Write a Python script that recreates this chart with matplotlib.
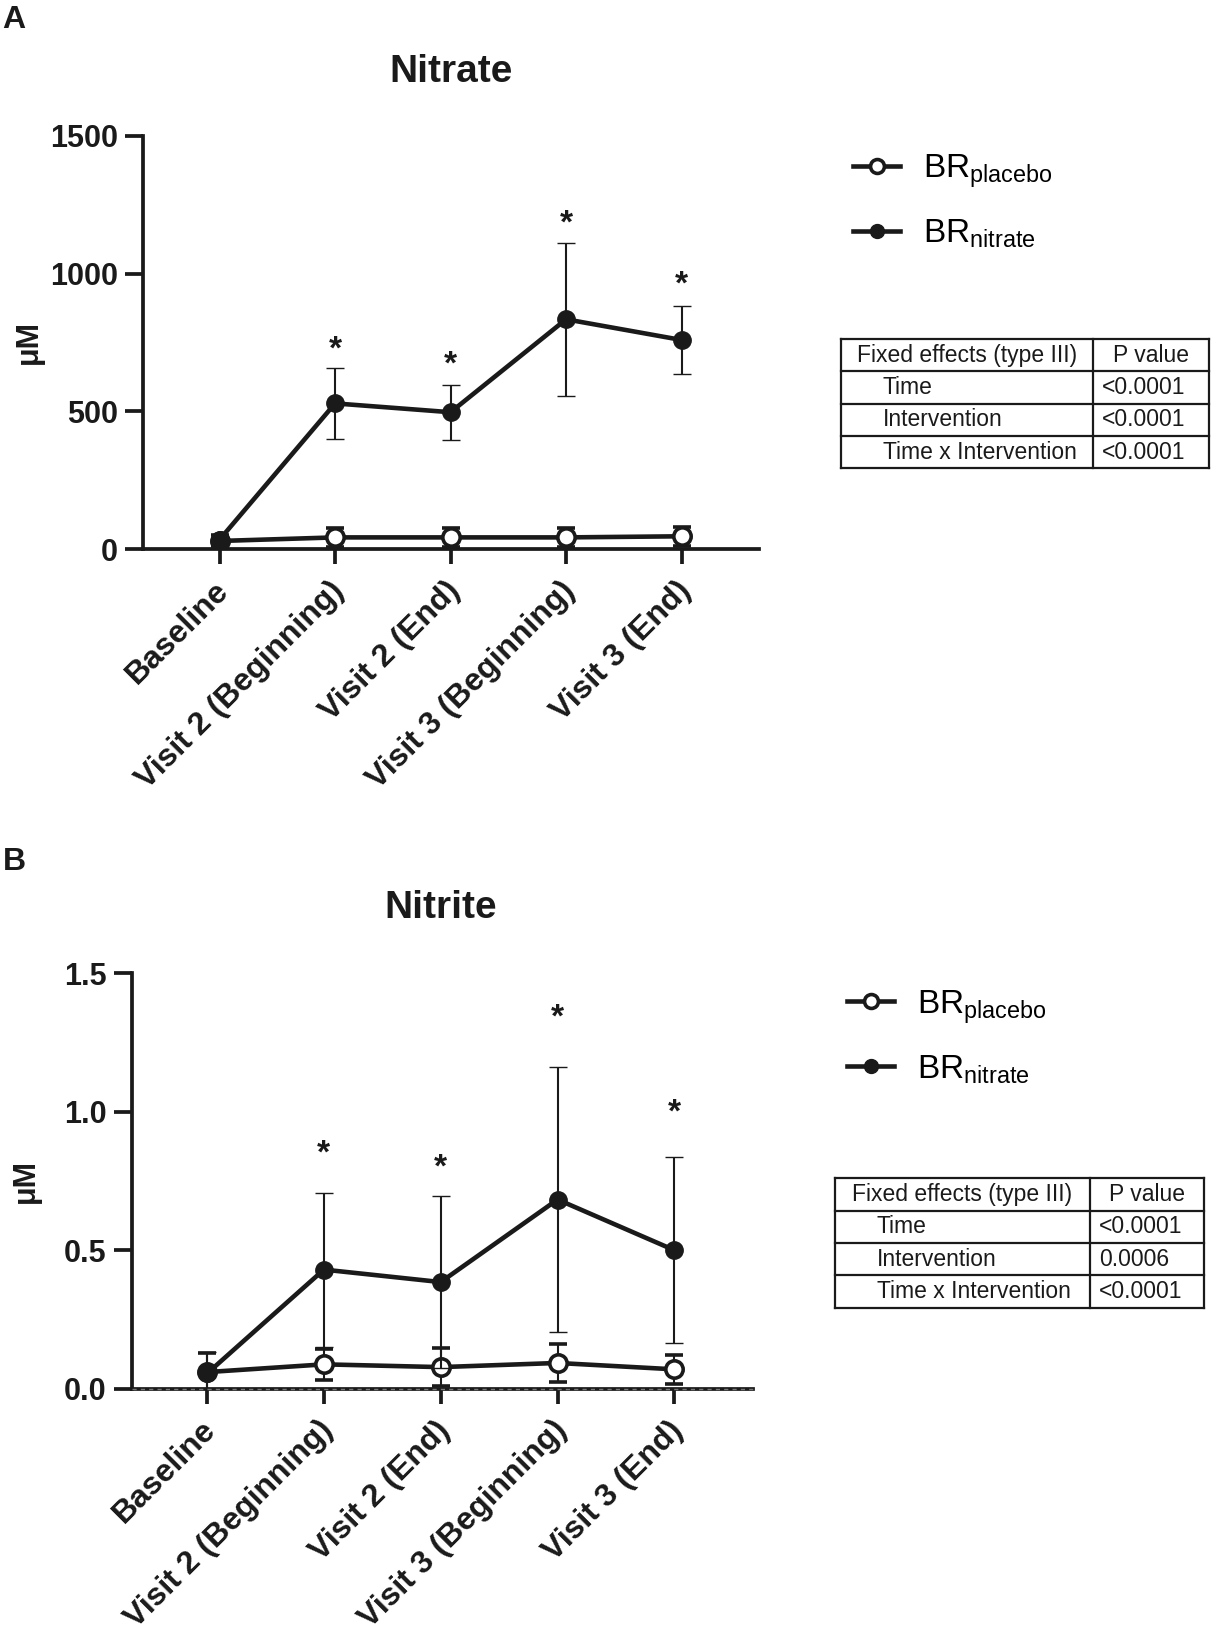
import numpy as np
import matplotlib
matplotlib.use('Agg')
import matplotlib.pyplot as plt
import matplotlib.transforms as mtransforms

plt.rcParams['font.family'] = ['Liberation Sans', 'DejaVu Sans']
plt.rcParams['mathtext.fontset'] = 'custom'
plt.rcParams['mathtext.rm'] = 'Liberation Sans'
plt.rcParams['mathtext.it'] = 'Liberation Sans:italic'
plt.rcParams['mathtext.bf'] = 'Liberation Sans:bold'

# ---------------- data ----------------
categories = ['Baseline', 'Visit 2 (Beginning)', 'Visit 2 (End)',
              'Visit 3 (Beginning)', 'Visit 3 (End)']
series_labels = [r'BR$_{\mathrm{placebo}}$', r'BR$_{\mathrm{nitrate}}$']

# Panel A: Nitrate (uM)
nitrate_placebo_mean = [30, 43, 43, 43, 47]
nitrate_placebo_sd = [20, 34, 34, 34, 34]
nitrate_nitrate_mean = [35, 529, 497, 834, 759]
nitrate_nitrate_sd = [8, 128, 100, 278, 123]
nitrate_star_y = [744, 690, 1201, 977]          # asterisks at visits 2..5
nitrate_yticks = [0, 500, 1000, 1500]
nitrate_yticklabels = ['0', '500', '1000', '1500']
nitrate_pvalues = ['<0.0001', '<0.0001', '<0.0001']

# Panel B: Nitrite (uM)
nitrite_placebo_mean = [0.060, 0.088, 0.078, 0.093, 0.070]
nitrite_placebo_sd = [0.070, 0.055, 0.068, 0.070, 0.052]
nitrite_nitrate_mean = [0.055, 0.430, 0.385, 0.683, 0.500]
nitrite_nitrate_sd = [0.077, 0.278, 0.310, 0.479, 0.336]
nitrite_star_y = [0.868, 0.816, 1.358, 1.014]
nitrite_yticks = [0.0, 0.5, 1.0, 1.5]
nitrite_yticklabels = ['0.0', '0.5', '1.0', '1.5']
nitrite_pvalues = ['<0.0001', '0.0006', '<0.0001']

table_header = ['Fixed effects (type III)', 'P value']
table_effects = ['Time', 'Intervention', 'Time x Intervention']

INK = '#1a1a1a'
fig = plt.figure(figsize=(12.12, 16.25), dpi=100)


def panel(rect, xlim, ylim, p_mean, p_sd, n_mean, n_sd, star_y, yticks, yticklabels,
          label_x, zero_dash=False):
    ax = fig.add_axes(rect)
    x = np.arange(len(categories))
    pl = ax.errorbar(x, p_mean, yerr=p_sd, fmt='-o', color=INK, mfc='white', mec=INK,
                     mew=2.6, ms=12.5, lw=3.3, elinewidth=1.5, capsize=6.8, capthick=1.6,
                     zorder=3)
    nl = ax.errorbar(x, n_mean, yerr=n_sd, fmt='-o', color=INK, mfc=INK, mec=INK,
                     mew=1, ms=12.5, lw=3.3, elinewidth=1.5, capsize=6.8, capthick=1.6,
                     zorder=4)
    for xi, yi in zip(x[1:], star_y):
        ax.annotate('*', (xi, yi), xytext=(0, -4), textcoords='offset points',
                    ha='center', va='center', fontsize=24, color=INK,
                    fontweight='bold')
    if zero_dash:
        ax.axhline(0, color='#777777', lw=1.0, ls=(0, (3, 3)), zorder=6, clip_on=False)
    ax.set_xlim(*xlim)
    ax.set_ylim(*ylim)
    ax.set_yticks(yticks)
    ax.set_yticklabels(yticklabels, fontsize=22, fontweight='bold')
    ax.set_xticks(x)
    ax.set_xticklabels(categories, rotation=45, ha='right', va='top',
                       rotation_mode='anchor', fontsize=23, fontweight='bold')
    for s in ['top', 'right']:
        ax.spines[s].set_visible(False)
    for s in ['left', 'bottom']:
        ax.spines[s].set_linewidth(2.7)
        ax.spines[s].set_color(INK)
    ax.tick_params(axis='y', direction='out', length=13, width=2.7, pad=5, colors=INK)
    ax.tick_params(axis='x', direction='out', length=11, width=2.7, pad=8, colors=INK)
    off = mtransforms.ScaledTranslation(-6 / 100, 0, fig.dpi_scale_trans)
    for lab in ax.get_xticklabels():
        lab.set_transform(lab.get_transform() + off)
    ax.set_ylabel('\u03bcM', fontsize=22, fontweight='bold', color=INK)
    ax.yaxis.set_label_coords(label_x, 0.5)
    return ax, pl, nl


def legend(ax, pl, nl, anchor):
    ax.legend([pl.lines[0], nl.lines[0]], series_labels, loc='upper left',
              bbox_to_anchor=anchor, bbox_transform=fig.transFigure, frameon=False,
              fontsize=24, handlelength=1.4, handletextpad=0.7, labelspacing=0.83,
              markerscale=0.8, borderpad=0, borderaxespad=0)


def table(rect, pvals, split):
    t = fig.add_axes(rect)
    t.set_xlim(0, 1)
    t.set_ylim(0, 4)
    t.axis('off')
    kw = dict(color=INK, lw=1.6, clip_on=False, solid_capstyle='projecting')
    for yy in range(5):
        t.plot([0, 1], [yy, yy], **kw)
    t.plot([0, 0], [0, 4], **kw)
    t.plot([1, 1], [0, 4], **kw)
    t.plot([split, split], [0, 4], **kw)
    t.text(split / 2, 3.5, table_header[0], ha='center', va='center', fontsize=16.5,
           color=INK)
    t.text((split + 1) / 2, 3.5, table_header[1], ha='center', va='center',
           fontsize=16.5, color=INK)
    for i, (eff, pv) in enumerate(zip(table_effects, pvals)):
        yy = 2.5 - i
        t.text(0.113, yy, eff, ha='left', va='center', fontsize=16.5, color=INK)
        t.text(split + 0.025, yy, pv, ha='left', va='center', fontsize=16.5, color=INK)


# Panel A
axA, plA, nlA = panel([0.1179, 0.662, 0.5086, 0.2545], (-0.664, 4.673), (0, 1500),
                      nitrate_placebo_mean, nitrate_placebo_sd,
                      nitrate_nitrate_mean, nitrate_nitrate_sd, nitrate_star_y,
                      nitrate_yticks, nitrate_yticklabels, -0.16)
legend(axA, plA, nlA, (0.704, 0.906))
table([0.694, 0.7117, 0.3034, 0.0797], nitrate_pvalues, 0.6845)

# Panel B
axB, plB, nlB = panel([0.1085, 0.1454, 0.5129, 0.2557], (-0.647, 4.674), (0, 1.5),
                      nitrite_placebo_mean, nitrite_placebo_sd,
                      nitrite_nitrate_mean, nitrite_nitrate_sd, nitrite_star_y,
                      nitrite_yticks, nitrite_yticklabels, -0.145, zero_dash=True)
legend(axB, plB, nlB, (0.699, 0.392))
table([0.6889, 0.1952, 0.3043, 0.0797], nitrite_pvalues, 0.691)

fig.text(0.372, 0.9556, 'Nitrate', ha='center', va='center', fontsize=28,
         fontweight='bold', color=INK)
fig.text(0.364, 0.4412, 'Nitrite', ha='center', va='center', fontsize=28,
         fontweight='bold', color=INK)
fig.text(0.002, 0.988, 'A', ha='left', va='center', fontsize=23, fontweight='bold',
         color=INK)
fig.text(0.002, 0.4694, 'B', ha='left', va='center', fontsize=23, fontweight='bold',
         color=INK)

fig.savefig('out.png', dpi=100, facecolor='white')
